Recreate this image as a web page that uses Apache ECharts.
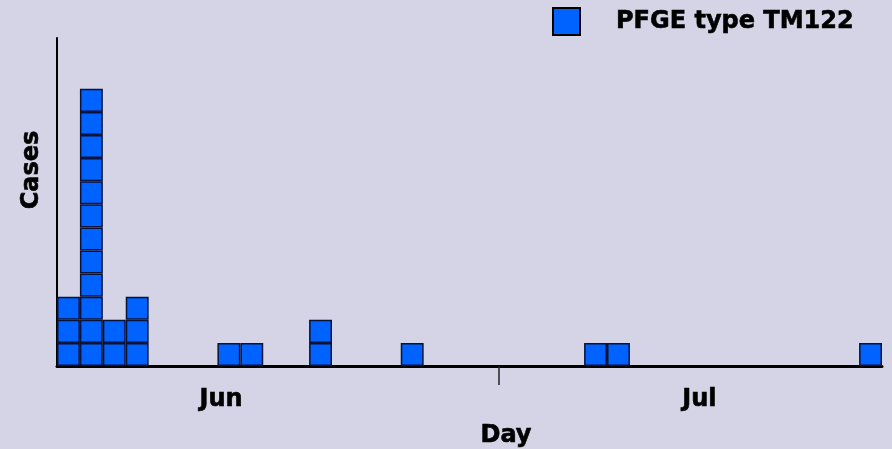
<!DOCTYPE html>
<html>
<head>
<meta charset="utf-8">
<script src="https://cdn.jsdelivr.net/npm/echarts@6/dist/echarts.min.js"></script>
<style>
	html, body { margin: 0; padding: 0; background: #D4D4E6; }
	#chart { width: 892px; height: 449px; }
</style>
</head>
<body>
<div id="chart"></div>
<script>
// 每天病例数（36 天）
var days = [];
for (var d = 1; d <= 36; d++) { days.push('' + d); }
var cases = [3, 12, 2, 3, 0, 0, 0, 1, 1, 0, 0, 2, 0, 0, 0, 1, 0, 0,
	0, 0, 0, 0, 0, 1, 1, 0, 0, 0, 0, 0, 0, 0, 0, 0, 0, 1];
var seriesName = 'PFGE type TM122';

// 月份刻度（按天计的位置）
var monthTicks = [19.28];
var monthLabelAt = [7.16, 28.03];
var monthLabels = ['Jun', 'Jul'];

var font = 'DejaVu Sans';
var boldText = { fontFamily: font, fontWeight: 'bold', fontSize: 24, color: '#000', textBorderColor: '#000', textBorderWidth: 0.6 };

// 每个病例画成一个方块：按层叠加
var maxCases = Math.max.apply(null, cases);
var series = [];
for (var k = 0; k < maxCases; k++) {
	series.push({
		name: seriesName,
		type: 'bar',
		stack: 'cases',
		barCategoryGap: '0%',
		xAxisIndex: 0,
		data: cases.map(function(c) { return c > k ? 1 : '-'; }),
		itemStyle: { color: '#0062FF', borderColor: '#0A1236', borderWidth: 1.5 },
		emphasis: { disabled: true }
	});
}

var chart = echarts.init(document.getElementById('chart'));
chart.setOption({
	backgroundColor: '#D4D4E6',
	animation: false,
	textStyle: { fontFamily: font },
	grid: { left: 57, right: 10, top: 38, bottom: 83, outerBoundsMode: 'none', containLabel: false },
	legend: {
		data: [seriesName],
		left: 547,
		top: 2,
		icon: 'rect',
		itemWidth: 27,
		itemHeight: 27,
		itemStyle: { color: '#0062FF', borderColor: '#000000', borderWidth: 2 },
		textStyle: Object.assign({}, boldText, { padding: [0, 0, 0, 31] })
	},
	xAxis: [
		{
			type: 'category',
			data: days,
			name: 'Day',
			nameLocation: 'middle',
			nameGap: 58,
			nameTextStyle: Object.assign({}, boldText, { padding: [0, 0, 0, 73] }),
			axisLine: { lineStyle: { color: '#000', width: 3 } },
			axisTick: { show: false },
			axisLabel: { show: false }
		},
		{
			type: 'value',
			min: 0,
			max: days.length,
			position: 'bottom',
			axisLine: { show: false },
			splitLine: { show: false },
			axisTick: { show: true, customValues: monthTicks, length: 19, lineStyle: { color: '#222', width: 1.5 } },
			axisLabel: Object.assign({
				show: true,
				customValues: monthLabelAt,
				margin: 22,
				formatter: function(v) {
					var i = monthLabelAt.indexOf(v);
					return i >= 0 ? monthLabels[i] : '';
				}
			}, boldText)
		}
	],
	yAxis: {
		type: 'value',
		min: 0,
		max: 14.2,
		name: 'Cases',
		nameLocation: 'middle',
		nameGap: 13,
		nameRotate: 90,
		nameTextStyle: Object.assign({}, boldText, { padding: [0, 0, 0, 64] }),
		axisLine: { show: true, lineStyle: { color: '#000', width: 2 } },
		axisTick: { show: false },
		axisLabel: { show: false },
		splitLine: { show: false }
	},
	series: series
});
</script>
</body>
</html>
